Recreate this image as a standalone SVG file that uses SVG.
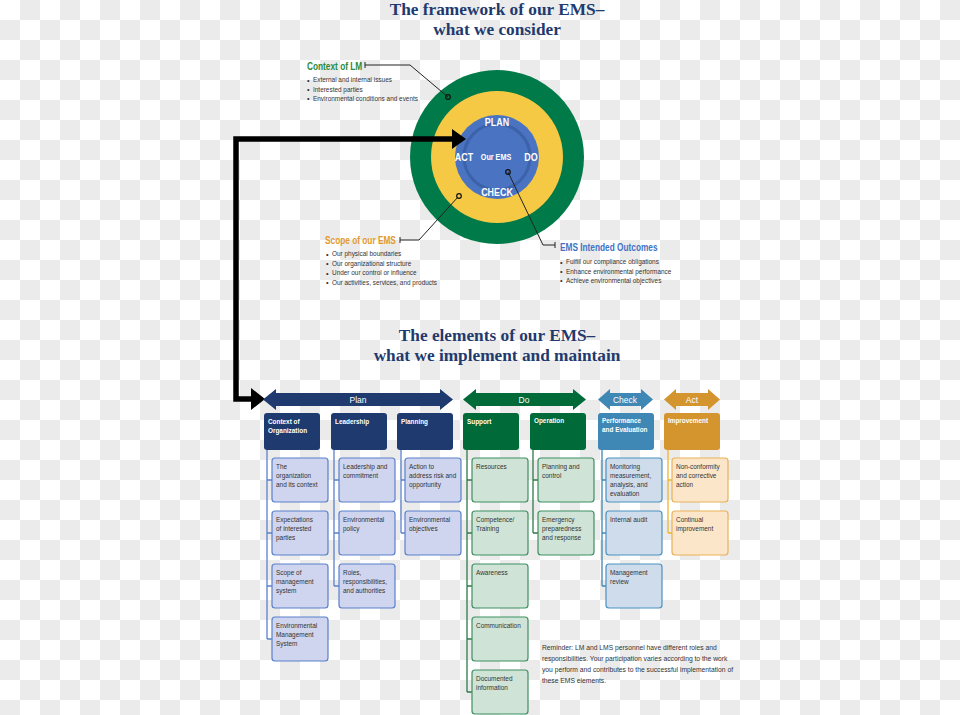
<svg xmlns="http://www.w3.org/2000/svg" width="960" height="715" viewBox="0 0 960 715">
<defs>
<pattern id="chk" width="40" height="40" patternUnits="userSpaceOnUse">
<rect width="40" height="40" fill="#ffffff"/>
<rect x="20" y="0" width="20" height="20" fill="#ebebeb"/>
<rect x="0" y="20" width="20" height="20" fill="#ebebeb"/>
</pattern>
<style>
.ttl{font-family:"Liberation Serif","Times New Roman",serif;font-weight:bold;font-size:17.3px;fill:#1f3a6e;text-anchor:middle}
.n{font-family:"Liberation Sans",Arial,sans-serif}
.bul{font-size:7.4px;fill:#333333}
.lbl{font-size:10px;font-weight:bold}
.ring{font-family:"Liberation Sans",Arial,sans-serif;font-weight:bold;fill:#ffffff;text-anchor:middle}
.bar{font-size:8.5px;fill:#ffffff;text-anchor:middle}
.hb{font-size:7.8px;font-weight:bold;fill:#ffffff}
.sb{font-size:7.5px;fill:#333333}
.lead{fill:none;stroke:#222222;stroke-width:1}
.dot{fill:none;stroke:#111111;stroke-width:1.2}
.pl{fill:#cfd5ee;stroke:#5b80cc;stroke-width:1.2}
.dl{fill:#cfe4d6;stroke:#3f9062;stroke-width:1.2}
.cl{fill:#cfdceb;stroke:#4b91c2;stroke-width:1.2}
.al{fill:#fce6c9;stroke:#eab15a;stroke-width:1.2}
</style>
</defs>
<rect width="960" height="715" fill="url(#chk)"/>

<!-- titles -->
<text class="ttl" x="497" y="15">The framework of our EMS–</text>
<text class="ttl" x="497" y="35">what we consider</text>
<text class="ttl" x="497" y="341">The elements of our EMS–</text>
<text class="ttl" x="497" y="361">what we implement and maintain</text>

<!-- EMS circle -->
<g id="ems-circle">
<circle cx="497" cy="157" r="87" fill="#007a48"/>
<circle cx="497" cy="157" r="66" fill="#f6c944"/>
<circle cx="497" cy="157" r="42" fill="#4a74c2"/>
<circle cx="497" cy="157" r="33" fill="none" stroke="#3c62aa" stroke-width="3"/>
<text class="ring" font-size="10.5" transform="translate(497 126) scale(0.85 1)">PLAN</text>
<text class="ring" font-size="10.5" transform="translate(464 161) scale(0.85 1)">ACT</text>
<text class="ring" font-size="10.5" transform="translate(531 161) scale(0.85 1)">DO</text>
<text class="ring" font-size="10.5" transform="translate(497 196) scale(0.85 1)">CHECK</text>
<text class="ring" font-size="8.5" transform="translate(496 160) scale(0.85 1)">Our EMS</text>
</g>

<!-- connectors -->
<g id="connectors">
<path d="M253 399 H236 V139 H454" fill="none" stroke="#000000" stroke-width="5.5"/>
<polygon points="452,129 466,139 452,149" fill="#000000"/>
<polygon points="251,388 265,399 251,410" fill="#000000"/>
<path class="lead" d="M365 62 V68 M365 65 H410 L448 97"/>
<path class="lead" d="M400 237 V243 M400 240 H419 L458 197"/>
<path class="lead" d="M555 242 V248 M555 245 H543 L508 172"/>
<circle class="dot" cx="448" cy="97" r="2.3"/>
<circle class="dot" cx="459" cy="196" r="2.3"/>
<circle class="dot" cx="508" cy="172" r="2.3"/>
<g fill="none" stroke-width="1.3">
<path stroke="#5b80cc" d="M267 450 V639 M267 480 H272 M267 533 H272 M267 586 H272 M267 639 H272"/>
<path stroke="#5b80cc" d="M334 450 V586 M334 480 H339 M334 533 H339 M334 586 H339"/>
<path stroke="#5b80cc" d="M401 450 V533 M401 480 H405 M401 533 H405"/>
<path stroke="#2f7a4a" d="M467 450 V692 M467 480 H472 M467 533 H472 M467 586 H472 M467 639 H472 M467 692 H472"/>
<path stroke="#2f7a4a" d="M533 450 V533 M533 480 H538 M533 533 H538"/>
<path stroke="#3f87b5" d="M602 450 V586 M602 480 H606 M602 533 H606 M602 586 H606"/>
<path stroke="#f0b430" d="M668 450 V533 M668 480 H672 M668 533 H672"/>
</g>
</g>

<!-- Context of LM -->
<g id="context-lm" class="n">
<text class="lbl" fill="#2a8a3c" transform="translate(307 69.5) scale(0.83 1)">Context of LM</text>
<g class="bul">
<text x="307" y="82.5">•</text><text x="307" y="92">•</text><text x="307" y="101">•</text>
<g transform="translate(313 0) scale(0.87 1)">
<text y="82.5">External and internal issues</text>
<text y="92">Interested parties</text>
<text y="101">Environmental conditions and events</text>
</g>
</g>
</g>

<!-- Scope -->
<g id="scope" class="n">
<text class="lbl" fill="#e29a2e" transform="translate(325 243.5) scale(0.83 1)">Scope of our EMS</text>
<g class="bul">
<text x="326" y="256.5">•</text><text x="326" y="266">•</text><text x="326" y="275.5">•</text><text x="326" y="285">•</text>
<g transform="translate(332 0) scale(0.87 1)">
<text y="256.5">Our physical boundaries</text>
<text y="266">Our organizational structure</text>
<text y="275.5">Under our control or influence</text>
<text y="285">Our activities, services, and products</text>
</g>
</g>
</g>

<!-- Outcomes -->
<g id="outcomes" class="n">
<text class="lbl" fill="#4472c4" transform="translate(560 250.5) scale(0.83 1)">EMS Intended Outcomes</text>
<g class="bul">
<text x="560" y="264.5">•</text><text x="560" y="274">•</text><text x="560" y="283">•</text>
<g transform="translate(566 0) scale(0.87 1)">
<text y="264.5">Fulfill our compliance obligations</text>
<text y="274">Enhance environmental performance</text>
<text y="283">Achieve environmental objectives</text>
</g>
</g>
</g>

<!-- phase bars -->
<g id="bar-plan" class="n">
<polygon fill="#1f3a6e" points="263,399.5 276,389 276,393 440,393 440,389 453,399.5 440,410 440,406 276,406 276,410"/>
<text class="bar" x="358" y="402.5">Plan</text>
</g>
<g id="bar-do" class="n">
<polygon fill="#006a38" points="463,399.5 476,389 476,393 573,393 573,389 586,399.5 573,410 573,406 476,406 476,410"/>
<text class="bar" x="524" y="402.5">Do</text>
</g>
<g id="bar-check" class="n">
<polygon fill="#3f87b5" points="598,399.5 610,389 610,393 641,393 641,389 653,399.5 641,410 641,406 610,406 610,410"/>
<text class="bar" x="625" y="402.5">Check</text>
</g>
<g id="bar-act" class="n">
<polygon fill="#d4952e" points="664,399.5 676,389 676,393 708,393 708,389 720,399.5 708,410 708,406 676,406 676,410"/>
<text class="bar" x="692" y="402.5">Act</text>
</g>

<!-- header boxes -->
<g id="h-context" class="n"><rect x="264" y="413" width="56" height="37" rx="3" fill="#1f3a6e"/><g transform="translate(268 413) scale(0.82 1)"><text class="hb" y="11">Context of</text><text class="hb" y="20">Organization</text></g></g>
<g id="h-leadership" class="n"><rect x="331" y="413" width="56" height="37" rx="3" fill="#1f3a6e"/><g transform="translate(335 413) scale(0.82 1)"><text class="hb" y="11">Leadership</text></g></g>
<g id="h-planning" class="n"><rect x="397" y="413" width="56" height="37" rx="3" fill="#1f3a6e"/><g transform="translate(401 413) scale(0.82 1)"><text class="hb" y="11">Planning</text></g></g>
<g id="h-support" class="n"><rect x="463" y="413" width="56" height="37" rx="3" fill="#006a38"/><g transform="translate(467 413) scale(0.82 1)"><text class="hb" y="11">Support</text></g></g>
<g id="h-operation" class="n"><rect x="530" y="413" width="56" height="37" rx="3" fill="#006a38"/><g transform="translate(534 413) scale(0.82 1)"><text class="hb" y="10.5">Operation</text></g></g>
<g id="h-performance" class="n"><rect x="598" y="413" width="56" height="37" rx="3" fill="#3f87b5"/><g transform="translate(602 413) scale(0.82 1)"><text class="hb" y="10.5">Performance</text><text class="hb" y="19.5">and Evaluation</text></g></g>
<g id="h-improvement" class="n"><rect x="664" y="413" width="56" height="37" rx="3" fill="#d4952e"/><g transform="translate(668 413) scale(0.82 1)"><text class="hb" y="10.5">Improvement</text></g></g>

<!-- column 1 -->
<g id="c1-r1" class="n"><rect class="pl" x="272" y="458" width="56" height="44" rx="3"/><g class="sb" transform="translate(276 458) scale(0.86 1)"><text y="11.5">The</text><text y="20.5">organization</text><text y="29.5">and its context</text></g></g>
<g id="c1-r2" class="n"><rect class="pl" x="272" y="511" width="56" height="44" rx="3"/><g class="sb" transform="translate(276 511) scale(0.86 1)"><text y="11.5">Expectations</text><text y="20.5">of interested</text><text y="29.5">parties</text></g></g>
<g id="c1-r3" class="n"><rect class="pl" x="272" y="564" width="56" height="44" rx="3"/><g class="sb" transform="translate(276 564) scale(0.86 1)"><text y="11.5">Scope of</text><text y="20.5">management</text><text y="29.5">system</text></g></g>
<g id="c1-r4" class="n"><rect class="pl" x="272" y="617" width="56" height="44" rx="3"/><g class="sb" transform="translate(276 617) scale(0.86 1)"><text y="11.5">Environmental</text><text y="20.5">Management</text><text y="29.5">System</text></g></g>

<!-- column 2 -->
<g id="c2-r1" class="n"><rect class="pl" x="339" y="458" width="56" height="44" rx="3"/><g class="sb" transform="translate(343 458) scale(0.86 1)"><text y="11.5">Leadership and</text><text y="20.5">commitment</text></g></g>
<g id="c2-r2" class="n"><rect class="pl" x="339" y="511" width="56" height="44" rx="3"/><g class="sb" transform="translate(343 511) scale(0.86 1)"><text y="11.5">Environmental</text><text y="20.5">policy</text></g></g>
<g id="c2-r3" class="n"><rect class="pl" x="339" y="564" width="56" height="44" rx="3"/><g class="sb" transform="translate(343 564) scale(0.86 1)"><text y="11.5">Roles,</text><text y="20.5">responsibilities,</text><text y="29.5">and authorities</text></g></g>

<!-- column 3 -->
<g id="c3-r1" class="n"><rect class="pl" x="405" y="458" width="56" height="44" rx="3"/><g class="sb" transform="translate(409 458) scale(0.86 1)"><text y="11.5">Action to</text><text y="20.5">address risk and</text><text y="29.5">opportunity</text></g></g>
<g id="c3-r2" class="n"><rect class="pl" x="405" y="511" width="56" height="44" rx="3"/><g class="sb" transform="translate(409 511) scale(0.86 1)"><text y="11.5">Environmental</text><text y="20.5">objectives</text></g></g>

<!-- column 4 -->
<g id="c4-r1" class="n"><rect class="dl" x="472" y="458" width="56" height="44" rx="3"/><g class="sb" transform="translate(476 458) scale(0.86 1)"><text y="11.5">Resources</text></g></g>
<g id="c4-r2" class="n"><rect class="dl" x="472" y="511" width="56" height="44" rx="3"/><g class="sb" transform="translate(476 511) scale(0.86 1)"><text y="11.5">Competence/</text><text y="20.5">Training</text></g></g>
<g id="c4-r3" class="n"><rect class="dl" x="472" y="564" width="56" height="44" rx="3"/><g class="sb" transform="translate(476 564) scale(0.86 1)"><text y="11.5">Awareness</text></g></g>
<g id="c4-r4" class="n"><rect class="dl" x="472" y="617" width="56" height="44" rx="3"/><g class="sb" transform="translate(476 617) scale(0.86 1)"><text y="11.5">Communication</text></g></g>
<g id="c4-r5" class="n"><rect class="dl" x="472" y="670" width="56" height="44" rx="3"/><g class="sb" transform="translate(476 670) scale(0.86 1)"><text y="11.5">Documented</text><text y="20.5">information</text></g></g>

<!-- column 5 -->
<g id="c5-r1" class="n"><rect class="dl" x="538" y="458" width="56" height="44" rx="3"/><g class="sb" transform="translate(542 458) scale(0.86 1)"><text y="11.5">Planning and</text><text y="20.5">control</text></g></g>
<g id="c5-r2" class="n"><rect class="dl" x="538" y="511" width="56" height="44" rx="3"/><g class="sb" transform="translate(542 511) scale(0.86 1)"><text y="11.5">Emergency</text><text y="20.5">preparedness</text><text y="29.5">and response</text></g></g>

<!-- column 6 -->
<g id="c6-r1" class="n"><rect class="cl" x="606" y="458" width="56" height="44" rx="3"/><g class="sb" transform="translate(610 458) scale(0.86 1)"><text y="11.5">Monitoring</text><text y="20.5">measurement,</text><text y="29.5">analysis, and</text><text y="38.5">evaluation</text></g></g>
<g id="c6-r2" class="n"><rect class="cl" x="606" y="511" width="56" height="44" rx="3"/><g class="sb" transform="translate(610 511) scale(0.86 1)"><text y="11.5">Internal audit</text></g></g>
<g id="c6-r3" class="n"><rect class="cl" x="606" y="564" width="56" height="44" rx="3"/><g class="sb" transform="translate(610 564) scale(0.86 1)"><text y="11.5">Management</text><text y="20.5">review</text></g></g>

<!-- column 7 -->
<g id="c7-r1" class="n"><rect class="al" x="672" y="458" width="56" height="44" rx="3"/><g class="sb" transform="translate(676 458) scale(0.86 1)"><text y="11.5">Non-conformity</text><text y="20.5">and corrective</text><text y="29.5">action</text></g></g>
<g id="c7-r2" class="n"><rect class="al" x="672" y="511" width="56" height="44" rx="3"/><g class="sb" transform="translate(676 511) scale(0.86 1)"><text y="11.5">Continual</text><text y="20.5">improvement</text></g></g>

<!-- reminder -->
<g id="reminder" class="n">
<g class="sb" transform="translate(542 0) scale(0.9 1)">
<text y="650.5">Reminder: LM and LMS personnel have different roles and</text>
<text y="661.5">responsibilities. Your participation varies according to the work</text>
<text y="672.5">you perform and contributes to the successful implementation of</text>
<text y="683.5">these EMS elements.</text>
</g>
</g>
</svg>
